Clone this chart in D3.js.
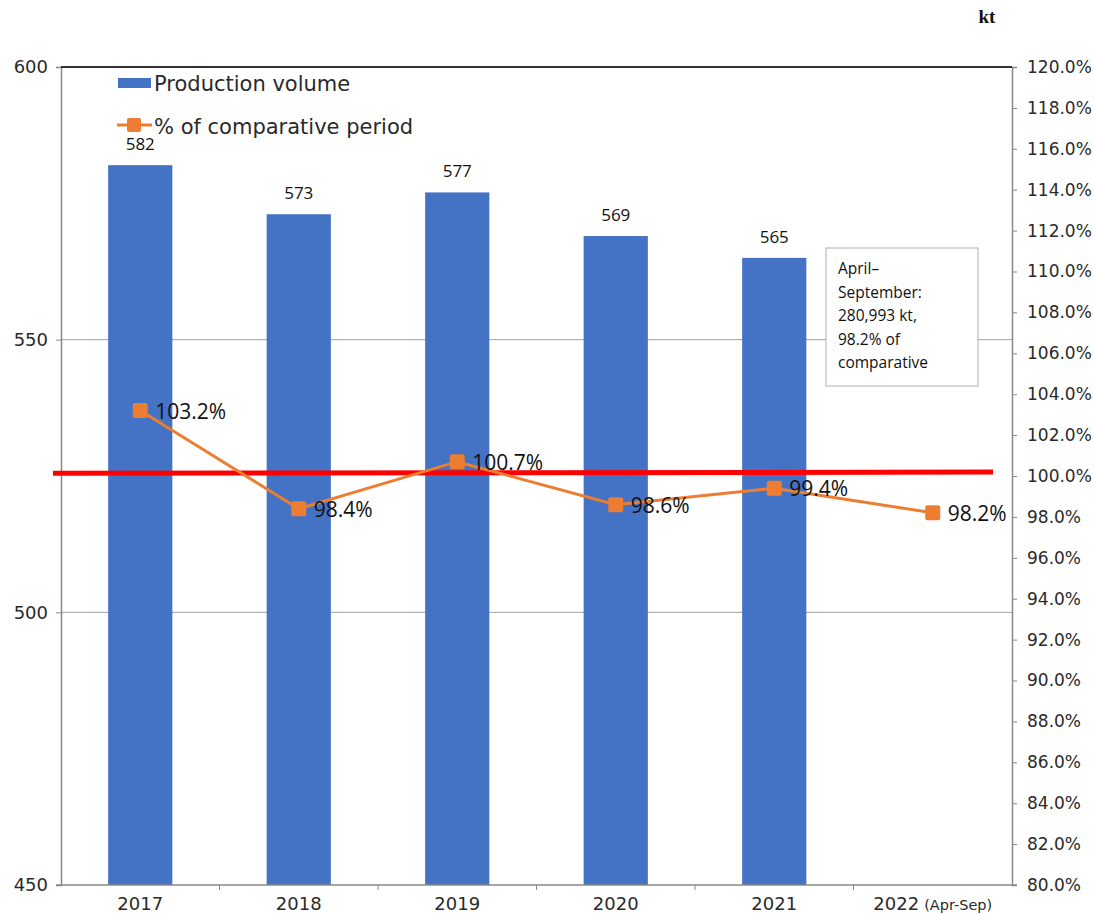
<!DOCTYPE html>
<html>
<head>
<meta charset="utf-8">
<script src="https://cdn.jsdelivr.net/npm/d3@7"></script>
<style>
  html, body { margin: 0; padding: 0; background: #fff; }
  svg { display: block; }
</style>
</head>
<body>
<svg id="chart" width="1094" height="915"></svg>
<script>
// Yearly production volume (kt) and percentage of the comparative period
const categories = ["2017", "2018", "2019", "2020", "2021", "2022 (Apr-Sep)"];
const volume = [582, 573, 577, 569, 565, null];
const percent = [103.2, 98.4, 100.7, 98.6, 99.4, 98.2];
const leftTicks = [450, 500, 550, 600];
const rightTicks = d3.range(80, 120.001, 2);
const referenceLevel = [100.13, 100.19]; // red benchmark line, start and end
const noteLines = ["April\u2013", "September:", "280,993 kt,", "98.2% of", "comparative"];

const svg = d3.select("#chart");
const m = { left: 61, right: 1012, top: 67, bottom: 885 };

const xBand = d3.scaleBand().domain(categories).range([m.left, m.right]);
const x = d3.scaleBand().domain(categories).range([m.left, m.right]).paddingInner(0.595).paddingOuter(0.2975);
const yL = d3.scaleLinear().domain([450, 600]).range([m.bottom, m.top]);
const yR = d3.scaleLinear().domain([80, 120]).range([m.bottom, m.top]);

const axisFont = "'DejaVu Sans', sans-serif";
const labelFont = "'Open Sans', 'Noto Sans', sans-serif";
const textColor = "#2a2a2a";

// horizontal gridlines
svg.append("g").selectAll("line")
  .data(leftTicks.filter(t => t > 450 && t < 600))
  .join("line")
  .attr("x1", m.left).attr("x2", m.right)
  .attr("y1", d => yL(d)).attr("y2", d => yL(d))
  .attr("stroke", "#a0a0a0").attr("stroke-width", 1);

// bars
const data = categories.map((c, i) => ({ c, v: volume[i], p: percent[i] }));
svg.append("g").selectAll("rect")
  .data(data.filter(d => d.v != null))
  .join("rect")
  .attr("x", d => x(d.c))
  .attr("width", x.bandwidth())
  .attr("y", d => yL(d.v))
  .attr("height", d => yL(450) - yL(d.v))
  .attr("fill", "#4472C4");

// bar value labels
svg.append("g").selectAll("text")
  .data(data.filter(d => d.v != null))
  .join("text")
  .attr("x", d => x(d.c) + x.bandwidth() / 2)
  .attr("y", d => yL(d.v) - 15)
  .attr("text-anchor", "middle")
  .attr("font-family", labelFont)
  .attr("font-size", 17)
  .attr("fill", "#111")
  .text(d => d.v);

// left axis
const leftAxis = svg.append("g")
  .attr("transform", `translate(${m.left},0)`)
  .call(d3.axisLeft(yL).tickValues(leftTicks).tickSize(5).tickPadding(8).tickFormat(d3.format("d")));
leftAxis.selectAll("text").attr("font-family", axisFont).attr("font-size", 18).attr("fill", textColor);
leftAxis.selectAll("line").attr("stroke", "#888");
leftAxis.select(".domain").attr("stroke", "#888").attr("stroke-width", 1.5);

// right axis
const rightAxis = svg.append("g")
  .attr("transform", `translate(${m.right},0)`)
  .call(d3.axisRight(yR).tickValues(rightTicks).tickSize(5).tickPadding(10).tickFormat(d => d.toFixed(1) + "%"));
rightAxis.selectAll("text").attr("font-family", axisFont).attr("font-size", 17).attr("fill", textColor);
rightAxis.selectAll("line").attr("stroke", "#888");
rightAxis.select(".domain").attr("stroke", "#888").attr("stroke-width", 1.5);

// bottom axis with ticks at category boundaries
const bottom = svg.append("g").attr("transform", `translate(0,${m.bottom})`);
bottom.append("line").attr("x1", m.left - 5).attr("x2", m.right + 5)
  .attr("stroke", "#888").attr("stroke-width", 1.5);
bottom.selectAll("line.tick")
  .data(categories.slice(1))
  .join("line").attr("class", "tick")
  .attr("x1", d => xBand(d)).attr("x2", d => xBand(d))
  .attr("y1", 0).attr("y2", 5).attr("stroke", "#888");
bottom.selectAll("text")
  .data(categories)
  .join("text")
  .attr("x", d => xBand(d) + xBand.bandwidth() / 2)
  .attr("y", 25)
  .attr("text-anchor", "middle")
  .attr("font-family", axisFont)
  .attr("font-size", 18)
  .attr("fill", textColor)
  .each(function(d) {
    const t = d3.select(this);
    const parts = d.split(" ");
    t.append("tspan").text(parts[0]);
    if (parts[1]) t.append("tspan").attr("font-size", 14.5).attr("dx", 5).text(parts[1]);
  });

// top border
svg.append("line").attr("x1", m.left).attr("x2", m.right)
  .attr("y1", m.top).attr("y2", m.top).attr("stroke", "#333").attr("stroke-width", 2);

// red benchmark line
svg.append("line")
  .attr("x1", 53).attr("x2", 993)
  .attr("y1", yR(referenceLevel[0])).attr("y2", yR(referenceLevel[1]))
  .attr("stroke", "#FF0000").attr("stroke-width", 5);

// percentage line
const cx = d => xBand(d.c) + xBand.bandwidth() / 2;
svg.append("path")
  .datum(data)
  .attr("fill", "none")
  .attr("stroke", "#ED7D31")
  .attr("stroke-width", 3)
  .attr("d", d3.line().x(cx).y(d => yR(d.p)));

svg.append("g").selectAll("rect")
  .data(data)
  .join("rect")
  .attr("x", d => cx(d) - 7.5).attr("y", d => yR(d.p) - 7.5)
  .attr("width", 15).attr("height", 15).attr("rx", 2)
  .attr("fill", "#ED7D31");

svg.append("g").selectAll("text")
  .data(data)
  .join("text")
  .attr("x", d => cx(d) + 15)
  .attr("y", d => yR(d.p) + 8)
  .attr("font-family", labelFont)
  .attr("font-size", 21)
  .attr("fill", "#111")
  .text(d => d.p.toFixed(1) + "%");

// legend
const legend = svg.append("g");
legend.append("rect").attr("x", 118).attr("y", 78).attr("width", 33).attr("height", 10).attr("fill", "#4472C4");
legend.append("text").attr("x", 154).attr("y", 91)
  .attr("font-family", axisFont).attr("font-size", 21).attr("fill", textColor).text("Production volume");
legend.append("line").attr("x1", 117).attr("x2", 152).attr("y1", 125).attr("y2", 125)
  .attr("stroke", "#ED7D31").attr("stroke-width", 3);
legend.append("rect").attr("x", 127).attr("y", 118).attr("width", 14).attr("height", 14).attr("rx", 2).attr("fill", "#ED7D31");
legend.append("text").attr("x", 154).attr("y", 134)
  .attr("font-family", axisFont).attr("font-size", 21).attr("fill", textColor).text("% of comparative period");

// unit label
svg.append("text").attr("x", 987).attr("y", 23).attr("text-anchor", "middle")
  .attr("font-family", "'Liberation Serif', serif").attr("font-weight", "bold").attr("font-size", 19)
  .attr("fill", "#111").text("kt");

// note box
const note = svg.append("g");
note.append("rect").attr("x", 826).attr("y", 248).attr("width", 152).attr("height", 138)
  .attr("fill", "#fff").attr("stroke", "#b0b0b0").attr("stroke-width", 1);
note.append("g").selectAll("text")
  .data(noteLines)
  .join("text")
  .attr("x", 838)
  .attr("y", (d, i) => 274 + i * 23.5)
  .attr("font-family", labelFont)
  .attr("font-size", 15.5)
  .attr("fill", "#111")
  .text(d => d);
</script>
</body>
</html>
